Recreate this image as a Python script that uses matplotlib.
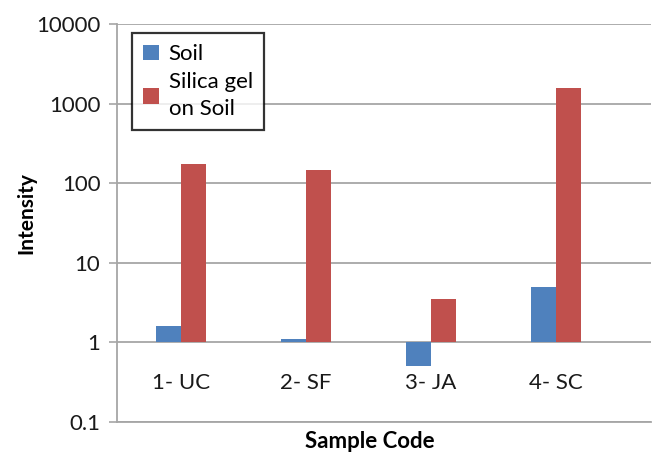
import numpy as np
import matplotlib
matplotlib.use('Agg')
import matplotlib.pyplot as plt

# 데이터
samples = ['1- UC', '2- SF', '3- JA', '4- SC']
soil = [1.6, 1.1, 0.5, 5.0]
silica_on_soil = [172, 148, 3.5, 1550]
y_ticks = [0.1, 1, 10, 100, 1000, 10000]
y_tick_labels = ['0.1', '1', '10', '100', '1000', '10000']

BLUE = '#4F81BD'
RED = '#C0504D'
GRID = '#A6A6A6'

plt.rcParams['font.family'] = ['Lato', 'DejaVu Sans']

fig = plt.figure(figsize=(6.54, 4.54), dpi=100)
ax = fig.add_axes([117 / 654, 32 / 454, 534 / 654, 398 / 454])

x = np.arange(len(samples))
w = 0.2
base = 1.0  # 막대 기준선 (Excel 스타일, 1에서 시작)
ax.bar(x - w / 2, np.array(soil) - base, bottom=base, width=w,
       color=BLUE, label='Soil', zorder=3)
ax.bar(x + w / 2, np.array(silica_on_soil) - base, bottom=base, width=w,
       color=RED, label='Silica gel\non Soil', zorder=3)

ax.set_yscale('log')
ax.set_ylim(0.1, 10000)
ax.set_xlim(-0.51, 3.76)
ax.yaxis.set_major_locator(matplotlib.ticker.FixedLocator(y_ticks))
ax.yaxis.set_minor_locator(matplotlib.ticker.NullLocator())
ax.set_yticklabels(y_tick_labels, fontsize=16, color='#1a1a1a')
ax.tick_params(axis='y', length=6, width=1.2, color=GRID, pad=6)
ax.set_xticks([])

ax.grid(axis='y', color=GRID, linewidth=1.3, zorder=0)
for s in ['top', 'right']:
    ax.spines[s].set_visible(False)
for s in ['left', 'bottom']:
    ax.spines[s].set_color(GRID)
    ax.spines[s].set_linewidth(1.3)

# 카테고리 라벨 (1 기준선 바로 아래)
for xi, lab in zip(x, samples):
    ax.text(xi, 0.31, lab, ha='center', va='center', fontsize=16, color='#1a1a1a')

fig.text(26 / 654, 1 - 213 / 454, 'Intensity', rotation=90, ha='center',
         va='center', fontsize=15, fontweight='bold')
fig.text(370 / 654, 2 / 454, 'Sample Code', ha='center', va='bottom',
         fontsize=16, fontweight='bold')

leg = ax.legend(loc='upper left', bbox_to_anchor=(0.028, 0.977),
                borderaxespad=0, fontsize=16, frameon=True, fancybox=False,
                handlelength=0.7, handleheight=0.7, handletextpad=0.45,
                borderpad=0.5, labelspacing=0.35)
leg.get_texts()[1].set_linespacing(1.45)
leg.get_frame().set_edgecolor('black')
leg.get_frame().set_linewidth(1.6)
leg.set_zorder(5)

fig.savefig('out.png', dpi=100)
